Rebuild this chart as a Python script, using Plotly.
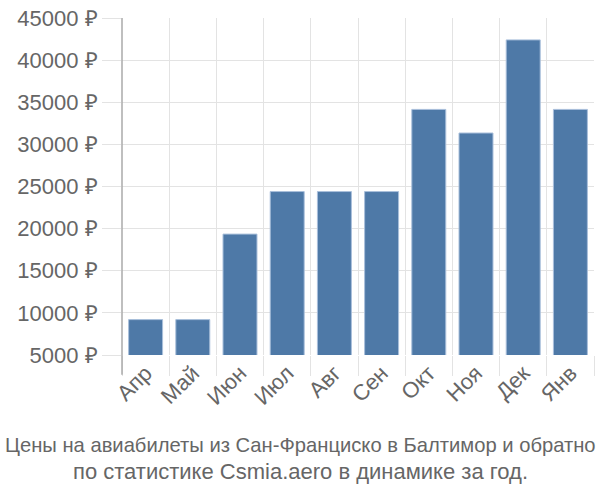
import plotly.graph_objects as go

months = ["Апр", "Май", "Июн", "Июл", "Авг", "Сен", "Окт", "Ноя", "Дек", "Янв"]
prices = [9200, 9200, 19350, 24400, 24400, 24400, 34150, 31350, 42400, 34150]
y_ticks = [5000, 10000, 15000, 20000, 25000, 30000, 35000, 40000, 45000]
y_labels = [f"{v} ₽" for v in y_ticks]
title_lines = ["Цены на авиабилеты из Сан-Франциско в Балтимор и обратно",
               "по статистике Csmia.aero в динамике за год."]

xs = list(range(len(months)))
bounds = [i - 0.5 for i in range(len(months) + 1)]

FONT = "Liberation Sans, Arial, sans-serif"
GRID = "#e3e3e3"
TXT = "#666666"

fig = go.Figure(go.Bar(
    x=xs, y=prices,
    marker=dict(color="#4e79a7", line=dict(color="#a9bfdb", width=1)),
    width=0.72,
    hoverinfo="skip",
))

fig.update_layout(
    width=600, height=500,
    margin=dict(l=122, r=6, t=15, b=145),
    paper_bgcolor="white", plot_bgcolor="white",
    showlegend=False,
    font=dict(family=FONT, color=TXT, size=22),
)

plot_h = 500 - 15 - 145
fig.add_annotation(text=title_lines[0], xref="paper", yref="paper",
                   x=(300 - 122) / 472, y=(355 - 446) / plot_h,
                   xanchor="center", yanchor="middle", showarrow=False,
                   font=dict(family=FONT, size=20.2, color=TXT))
fig.add_annotation(text=title_lines[1], xref="paper", yref="paper",
                   x=(300 - 122) / 472, y=(355 - 473) / plot_h,
                   xanchor="center", yanchor="middle", showarrow=False,
                   font=dict(family=FONT, size=22, color=TXT))

fig.update_xaxes(
    range=[-0.5, len(months) - 0.5],
    tickmode="array", tickvals=xs, ticktext=months,
    tickangle=-45, ticks="", showgrid=False, zeroline=False,
    tickfont=dict(size=22, color=TXT),
    minor=dict(tickmode="array", tickvals=bounds, showgrid=True, gridcolor=GRID,
               gridwidth=1, ticks="outside", ticklen=20, tickcolor=GRID, tickwidth=1),
    showline=False,
)

fig.update_yaxes(
    range=[5000, 45000],
    tickmode="array", tickvals=y_ticks, ticktext=y_labels,
    showgrid=True, gridcolor=GRID, gridwidth=1,
    ticks="outside", ticklen=19, tickcolor=GRID, tickwidth=1,
    zeroline=False, showline=False,
    tickfont=dict(size=22, color=TXT),
)

fig.add_shape(type="line", xref="paper", yref="paper",
              x0=0, x1=0, y0=-20 / 340, y1=1,
              line=dict(color="#aaaaaa", width=1.5))

fig.write_html("out.html")
